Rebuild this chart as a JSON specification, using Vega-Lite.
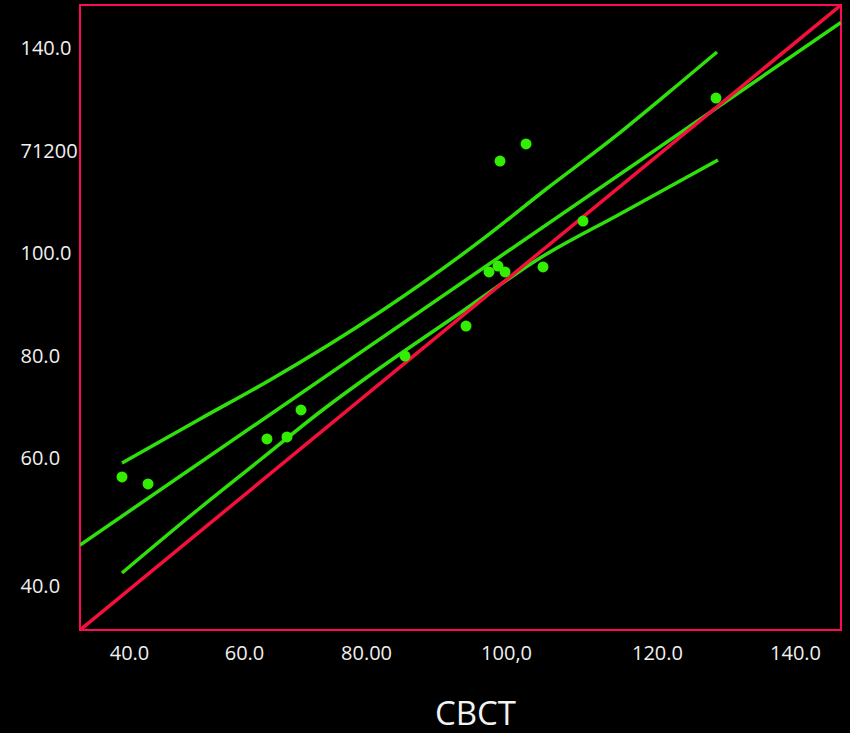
{
  "$schema": "https://vega.github.io/schema/vega-lite/v6.json",
  "width": 761,
  "height": 625,
  "autosize": {"type": "none"},
  "padding": {"left": 80, "top": 5, "right": 9, "bottom": 103},
  "background": "#000000",
  "config": {
    "view": {"stroke": "#ff0a5a", "strokeWidth": 2},
    "font": "Open Sans"
  },
  "datasets": {
    "points": [
      {"x": 32.86, "y": 56.09},
      {"x": 37.05, "y": 54.72},
      {"x": 56.20, "y": 63.54},
      {"x": 59.42, "y": 63.93},
      {"x": 61.68, "y": 69.22},
      {"x": 78.42, "y": 79.80},
      {"x": 88.24, "y": 85.68},
      {"x": 91.94, "y": 96.27},
      {"x": 93.39, "y": 97.44},
      {"x": 94.52, "y": 96.27},
      {"x": 100.63, "y": 97.25},
      {"x": 93.71, "y": 118.02},
      {"x": 97.90, "y": 121.36},
      {"x": 107.07, "y": 106.26},
      {"x": 128.48, "y": 130.37}
    ],
    "lines": [
      {"series": "upper", "x": 32.86, "y": 58.83},
      {"series": "upper", "x": 45.42, "y": 67.46},
      {"series": "upper", "x": 56.69, "y": 75.10},
      {"series": "upper", "x": 74.39, "y": 88.43},
      {"series": "upper", "x": 90.97, "y": 102.74},
      {"series": "upper", "x": 100.96, "y": 112.34},
      {"series": "upper", "x": 111.74, "y": 122.34},
      {"series": "upper", "x": 122.69, "y": 133.31},
      {"series": "upper", "x": 128.64, "y": 139.39},
      {"series": "lower", "x": 32.86, "y": 37.27},
      {"series": "lower", "x": 45.42, "y": 50.01},
      {"series": "lower", "x": 55.08, "y": 59.42},
      {"series": "lower", "x": 64.73, "y": 68.83},
      {"series": "lower", "x": 74.39, "y": 77.45},
      {"series": "lower", "x": 87.27, "y": 88.23},
      {"series": "lower", "x": 100.15, "y": 99.01},
      {"series": "lower", "x": 113.03, "y": 107.64},
      {"series": "lower", "x": 128.80, "y": 118.22},
      {"series": "fit", "x": 26.1, "y": 42.76},
      {"series": "fit", "x": 148.6, "y": 145.19}
    ],
    "identity": [
      {"x": 26.1, "y": 26.1},
      {"x": 148.6, "y": 148.6}
    ]
  },
  "layer": [
    {
      "data": {"name": "lines"},
      "mark": {"type": "line", "strokeWidth": 3.5, "clip": true, "color": "#2fe00c", "interpolate": "monotone"},
      "encoding": {
        "x": {
          "field": "x", "type": "quantitative",
          "scale": {"domain": [26.1, 148.6], "nice": false, "zero": false},
          "axis": {
            "title": "CBCT",
            "titleFont": "Open Sans",
            "titleFontSize": 33,
            "titleFontWeight": "normal",
            "titleColor": "#f2f2f2",
            "titleBaseline": "alphabetic",
            "titleAlign": "center",
            "titleX": 395,
            "titleY": 94,
            "values": [33.99, 52.5, 72.14, 94.68, 118.98, 141.2],
            "labelExpr": "datum.value < 40 ? '40.0' : datum.value < 60 ? '60.0' : datum.value < 80 ? '80.00' : datum.value < 100 ? '100,0' : datum.value < 130 ? '120.0' : '140.0'",
            "labelFont": "Open Sans",
            "labelFontSize": 20,
            "labelColor": "#f0f0f0",
            "labelPadding": 13,
            "labelOverlap": false,
            "labelFlush": false,
            "ticks": false,
            "tickSize": 0,
            "domain": false,
            "grid": false
          }
        },
        "y": {
          "field": "y", "type": "quantitative",
          "scale": {"domain": [26.1, 148.6], "nice": false, "zero": false},
          "axis": {
            "title": null,
            "values": [139.98, 119.79, 99.99, 79.8, 59.81, 34.72],
            "labelExpr": "datum.value < 40 ? '40.0' : datum.value < 70 ? '60.0' : datum.value < 90 ? '80.0' : datum.value < 110 ? '100.0' : datum.value < 130 ? '71200' : '140.0'",
            "labelFont": "Open Sans",
            "labelFontSize": 20,
            "labelColor": "#f0f0f0",
            "labelAlign": "left",
            "labelBaseline": "middle",
            "labelPadding": 60,
            "labelOverlap": false,
            "labelFlush": false,
            "ticks": false,
            "tickSize": 0,
            "domain": false,
            "grid": false
          }
        },
        "detail": {"field": "series", "type": "nominal"}
      }
    },
    {
      "data": {"name": "identity"},
      "mark": {"type": "line", "strokeWidth": 3.5, "clip": true, "color": "#f5103c"},
      "encoding": {
        "x": {"field": "x", "type": "quantitative"},
        "y": {"field": "y", "type": "quantitative"}
      }
    },
    {
      "data": {"name": "points"},
      "mark": {"type": "circle", "size": 120, "opacity": 1, "color": "#33ee00"},
      "encoding": {
        "x": {"field": "x", "type": "quantitative"},
        "y": {"field": "y", "type": "quantitative"}
      }
    }
  ]
}
